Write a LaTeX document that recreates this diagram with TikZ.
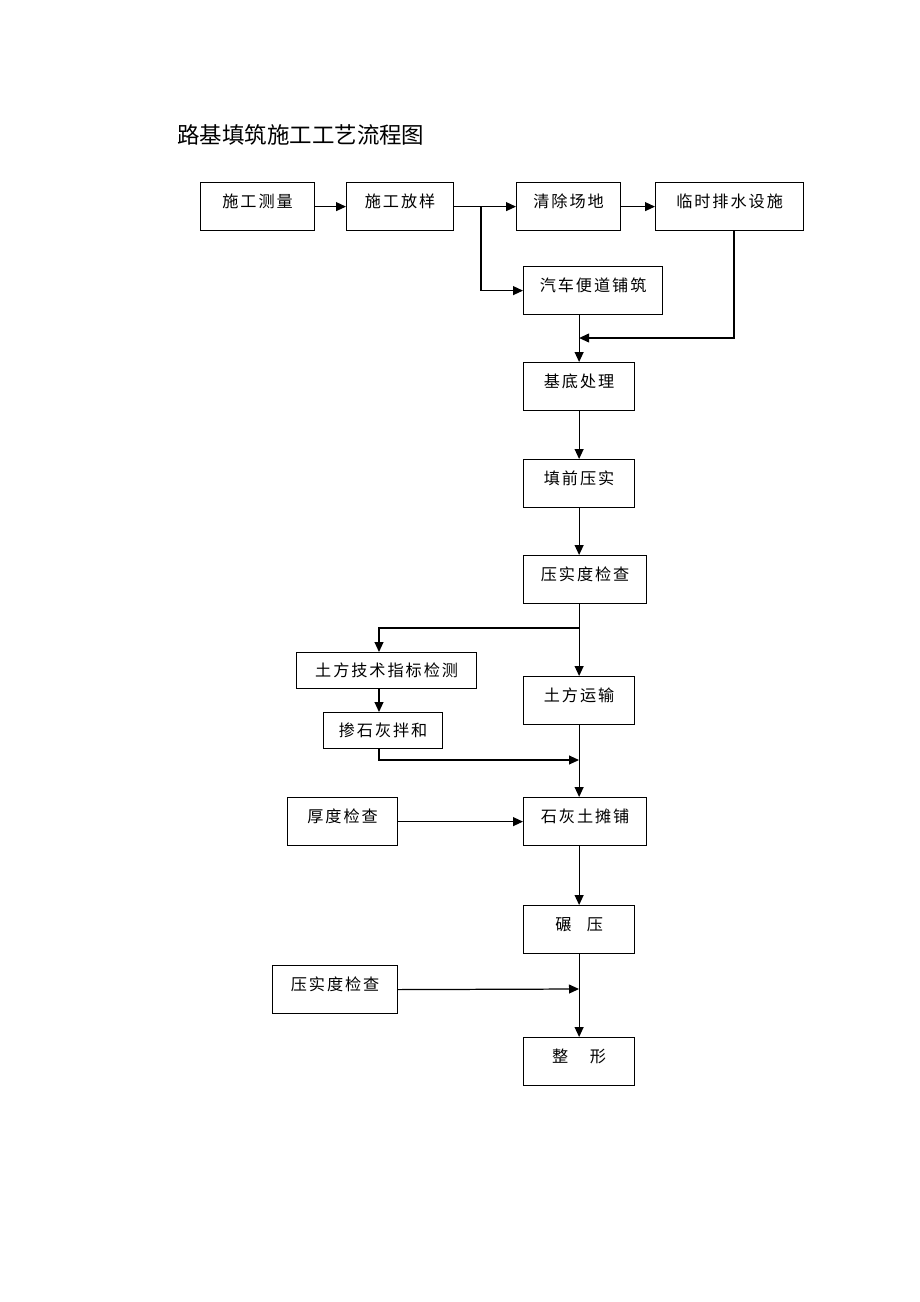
\documentclass[tikz,border=0pt]{standalone}
\usepackage{fontspec}
\usetikzlibrary{arrows.meta,positioning}
\newfontfamily\cjk[LetterSpace=12]{Noto Sans CJK SC}
\newfontfamily\cjktitle{Noto Sans CJK SC}

\begin{document}
\begin{tikzpicture}[% one unit = one pixel of the page
			x=0.65pt,y=-0.65pt,
			every node/.style={
				rectangle,
				inner xsep=0pt,
				inner ysep=0pt,		% text is held near the top by its height and depth
				anchor=north west
			},
			stepbox/.style={draw=black,line width=0.8pt,font=\cjk\fontsize{10.5pt}{12pt}\selectfont,
				text height=16.25pt,text depth=14.95pt},
			lowbox/.style={stepbox,text height=15.6pt,text depth=7.8pt},
			arr/.style={draw,line width=0.8pt,-{Triangle[length=6.5pt,width=5.8pt]}},
			link/.style={draw,line width=0.8pt}
		]
		\useasboundingbox (0,0) rectangle (920,1302);
		\node[anchor=base west,font=\cjktitle\fontsize{14.6pt}{16pt}\selectfont](title) at (177,143){路基填筑施工工艺流程图};
		% first row
		\node[stepbox,minimum width=74.1pt](celiang) at (200,182){施工测量};
		\node[stepbox,minimum width=69.55pt](fangyang) at (346,182){施工放样};
		\node[stepbox,minimum width=67.6pt](qingchu) at (516,182){清除场地};
		\node[stepbox,minimum width=96.2pt](paishui) at (655,182){临时排水设施};
		\node[stepbox,minimum width=90.35pt](biandao) at (523,266){汽车便道铺筑};
		% main column
		\node[stepbox,minimum width=72.15pt](jidi) at (523,362){基底处理};
		\node[stepbox,minimum width=72.15pt](tianqian) at (523,459){填前压实};
		\node[stepbox,minimum width=79.95pt](yashi1) at (523,555){压实度检查};
		\node[stepbox,minimum width=72.15pt](yunshu) at (523,676){土方运输};
		\node[stepbox,minimum width=79.95pt](tanpu) at (523,797){石灰土摊铺};
		\node[stepbox,minimum width=72.15pt](nianya) at (523,905){碾\hspace{10pt}压};
		\node[stepbox,minimum width=72.15pt](zhengxing) at (523,1037){整\hspace{14pt}形};
		% side boxes
		\node[lowbox,minimum width=117pt](zhibiao) at (296,652){土方技术指标检测};
		\node[lowbox,minimum width=77.35pt](chanhui) at (323,712){掺石灰拌和};
		\node[stepbox,minimum width=71.5pt](houdu) at (287,797){厚度检查};
		\node[stepbox,minimum width=81.25pt](yashi2) at (272,965){压实度检查};
		% bends and joins
		\coordinate (fork1) at (481,206);
		\coordinate (drain) at (734,338);
		\coordinate (fork2) at (579,628);
		\coordinate (left) at (379,628);
		\coordinate (mixin) at (579,760);
		\coordinate (compin) at (579,989);
		\draw[arr] (fork1) |- (biandao.west);
		\draw[arr] (paishui.south -| drain) |- (drain -| jidi.north);
		\draw[arr] (fork2) -| (left |- zhibiao.north);
		\draw[arr] (left |- chanhui.south) |- (mixin);
		\path
		(celiang.east) edge[arr] (fangyang.west)
		(fangyang.east) edge[arr] (qingchu.west)
		(qingchu.east) edge[arr] (paishui.west)
		(biandao.south -| jidi.north) edge[arr] (jidi.north)
		(jidi.south) edge[arr] (tianqian.north)
		(tianqian.south) edge[arr] (tianqian.south |- yashi1.north)
		(yunshu.north |- yashi1.south) edge[arr] (yunshu.north)
		(left |- zhibiao.south) edge[arr] (left |- chanhui.north)
		(yunshu.south) edge[arr] (yunshu.south |- tanpu.north)
		(houdu.east) edge[arr] (houdu.east -| tanpu.west)
		(yunshu.south |- tanpu.south) edge[arr] (nianya.north)
		(yashi2.east) edge[arr] (compin)
		(nianya.south) edge[arr] (zhengxing.north)
		;
	\end{tikzpicture}
\end{document}
